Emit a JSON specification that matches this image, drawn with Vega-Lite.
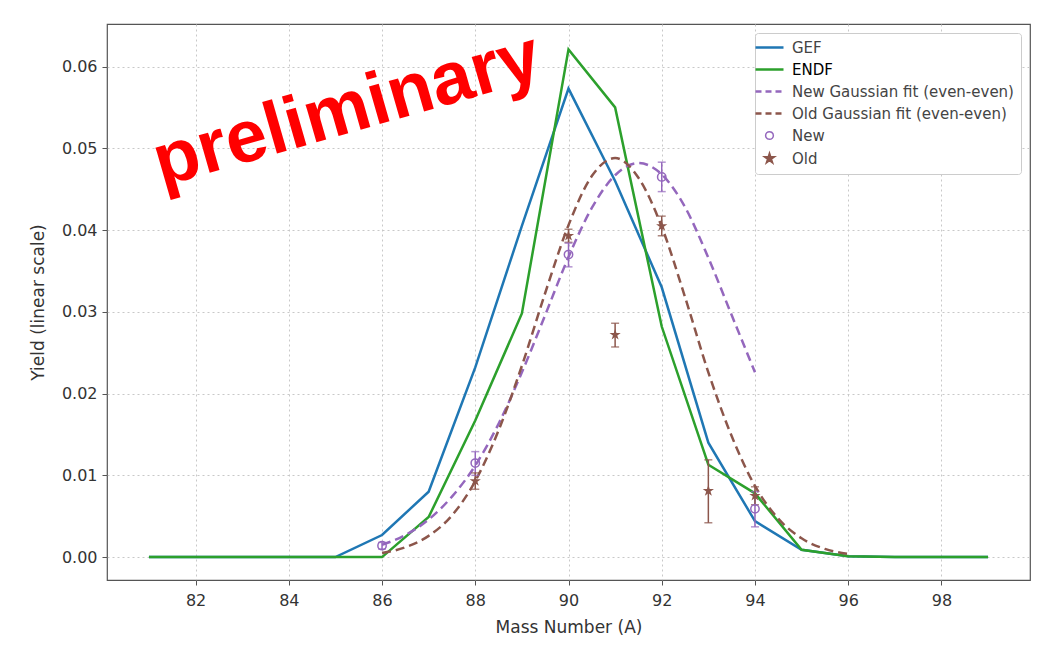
{
  "$schema": "https://vega.github.io/schema/vega-lite/v6.json",
  "width": 923,
  "height": 556,
  "autosize": {"type": "none"},
  "padding": {"left": 107, "top": 24, "right": 8, "bottom": 75},
  "background": "white",
  "config": {
    "font": "DejaVu Sans",
    "view": {"stroke": "#555555", "strokeWidth": 1.2},
    "axis": {
      "domain": false,
      "grid": true,
      "gridColor": "#c8c8c8",
      "gridDash": [2, 3],
      "gridWidth": 1,
      "tickColor": "#555555",
      "tickSize": 5,
      "labelColor": "#333333",
      "labelFontSize": 16,
      "titleColor": "#333333",
      "titleFontSize": 17,
      "titleFontWeight": "normal",
      "labelPadding": 5
    },
    "legend": {
      "orient": "top-right",
      "offset": 9,
      "fillColor": "white",
      "strokeColor": "#cccccc",
      "padding": 7,
      "cornerRadius": 3,
      "labelFontSize": 15,
      "labelColor": "#333333",
      "labelLimit": 400,
      "symbolSize": 784,
      "rowPadding": 6,
      "labelOffset": 15,
      "symbolStrokeWidth": 2.5
    }
  },
  "datasets": {
    "model": [
      {"A": 81, "y": 0, "series": "GEF"},
      {"A": 82, "y": 0, "series": "GEF"},
      {"A": 83, "y": 0, "series": "GEF"},
      {"A": 84, "y": 0, "series": "GEF"},
      {"A": 85, "y": 0, "series": "GEF"},
      {"A": 86, "y": 0.0027, "series": "GEF"},
      {"A": 87, "y": 0.0080, "series": "GEF"},
      {"A": 88, "y": 0.0232, "series": "GEF"},
      {"A": 89, "y": 0.0405, "series": "GEF"},
      {"A": 90, "y": 0.0573, "series": "GEF"},
      {"A": 91, "y": 0.0460, "series": "GEF"},
      {"A": 92, "y": 0.0330, "series": "GEF"},
      {"A": 93, "y": 0.0140, "series": "GEF"},
      {"A": 94, "y": 0.0044, "series": "GEF"},
      {"A": 95, "y": 0.0009, "series": "GEF"},
      {"A": 96, "y": 0.0001, "series": "GEF"},
      {"A": 97, "y": 0, "series": "GEF"},
      {"A": 98, "y": 0, "series": "GEF"},
      {"A": 99, "y": 0, "series": "GEF"},
      {"A": 81, "y": 0, "series": "ENDF"},
      {"A": 82, "y": 0, "series": "ENDF"},
      {"A": 83, "y": 0, "series": "ENDF"},
      {"A": 84, "y": 0, "series": "ENDF"},
      {"A": 85, "y": 0, "series": "ENDF"},
      {"A": 86, "y": 0, "series": "ENDF"},
      {"A": 87, "y": 0.0049, "series": "ENDF"},
      {"A": 88, "y": 0.0167, "series": "ENDF"},
      {"A": 89, "y": 0.0298, "series": "ENDF"},
      {"A": 90, "y": 0.0621, "series": "ENDF"},
      {"A": 91, "y": 0.0550, "series": "ENDF"},
      {"A": 92, "y": 0.0282, "series": "ENDF"},
      {"A": 93, "y": 0.0113, "series": "ENDF"},
      {"A": 94, "y": 0.0078, "series": "ENDF"},
      {"A": 95, "y": 0.0009, "series": "ENDF"},
      {"A": 96, "y": 0.0001, "series": "ENDF"},
      {"A": 97, "y": 0, "series": "ENDF"},
      {"A": 98, "y": 0, "series": "ENDF"},
      {"A": 99, "y": 0, "series": "ENDF"}
    ],
    "fits": [
      {"A": 86, "y": 0.0015, "series": "New Gaussian fit (even-even)"},
      {"A": 86.5, "y": 0.0027, "series": "New Gaussian fit (even-even)"},
      {"A": 87, "y": 0.0046, "series": "New Gaussian fit (even-even)"},
      {"A": 87.5, "y": 0.0074, "series": "New Gaussian fit (even-even)"},
      {"A": 88, "y": 0.0112, "series": "New Gaussian fit (even-even)"},
      {"A": 88.5, "y": 0.0163, "series": "New Gaussian fit (even-even)"},
      {"A": 89, "y": 0.0226, "series": "New Gaussian fit (even-even)"},
      {"A": 89.5, "y": 0.0296, "series": "New Gaussian fit (even-even)"},
      {"A": 90, "y": 0.0367, "series": "New Gaussian fit (even-even)"},
      {"A": 90.5, "y": 0.0427, "series": "New Gaussian fit (even-even)"},
      {"A": 91, "y": 0.0467, "series": "New Gaussian fit (even-even)"},
      {"A": 91.5, "y": 0.0482, "series": "New Gaussian fit (even-even)"},
      {"A": 92, "y": 0.0468, "series": "New Gaussian fit (even-even)"},
      {"A": 92.5, "y": 0.0428, "series": "New Gaussian fit (even-even)"},
      {"A": 93, "y": 0.0366, "series": "New Gaussian fit (even-even)"},
      {"A": 93.5, "y": 0.0296, "series": "New Gaussian fit (even-even)"},
      {"A": 94, "y": 0.0226, "series": "New Gaussian fit (even-even)"},
      {"A": 86, "y": 0.0005, "series": "Old Gaussian fit (even-even)"},
      {"A": 86.5, "y": 0.0012, "series": "Old Gaussian fit (even-even)"},
      {"A": 87, "y": 0.0026, "series": "Old Gaussian fit (even-even)"},
      {"A": 87.5, "y": 0.0051, "series": "Old Gaussian fit (even-even)"},
      {"A": 88, "y": 0.0093, "series": "Old Gaussian fit (even-even)"},
      {"A": 88.5, "y": 0.0155, "series": "Old Gaussian fit (even-even)"},
      {"A": 89, "y": 0.0234, "series": "Old Gaussian fit (even-even)"},
      {"A": 89.5, "y": 0.0323, "series": "Old Gaussian fit (even-even)"},
      {"A": 90, "y": 0.0406, "series": "Old Gaussian fit (even-even)"},
      {"A": 90.5, "y": 0.0466, "series": "Old Gaussian fit (even-even)"},
      {"A": 91, "y": 0.0488, "series": "Old Gaussian fit (even-even)"},
      {"A": 91.5, "y": 0.0464, "series": "Old Gaussian fit (even-even)"},
      {"A": 92, "y": 0.0404, "series": "Old Gaussian fit (even-even)"},
      {"A": 92.5, "y": 0.0318, "series": "Old Gaussian fit (even-even)"},
      {"A": 93, "y": 0.0226, "series": "Old Gaussian fit (even-even)"},
      {"A": 93.5, "y": 0.0148, "series": "Old Gaussian fit (even-even)"},
      {"A": 94, "y": 0.0087, "series": "Old Gaussian fit (even-even)"},
      {"A": 94.5, "y": 0.0047, "series": "Old Gaussian fit (even-even)"},
      {"A": 95, "y": 0.0023, "series": "Old Gaussian fit (even-even)"},
      {"A": 95.5, "y": 0.0010, "series": "Old Gaussian fit (even-even)"},
      {"A": 96, "y": 0.0004, "series": "Old Gaussian fit (even-even)"}
    ],
    "meas": [
      {"A": 86, "y": 0.0014, "lo": 0.0010, "hi": 0.0018, "series": "New"},
      {"A": 88, "y": 0.0115, "lo": 0.0100, "hi": 0.0129, "series": "New"},
      {"A": 90, "y": 0.0370, "lo": 0.0355, "hi": 0.0384, "series": "New"},
      {"A": 92, "y": 0.0465, "lo": 0.0447, "hi": 0.0483, "series": "New"},
      {"A": 94, "y": 0.0059, "lo": 0.0037, "hi": 0.0080, "series": "New"},
      {"A": 88, "y": 0.0093, "lo": 0.0083, "hi": 0.0103, "series": "Old"},
      {"A": 90, "y": 0.0393, "lo": 0.0385, "hi": 0.0401, "series": "Old"},
      {"A": 91, "y": 0.0272, "lo": 0.0257, "hi": 0.0286, "series": "Old"},
      {"A": 92, "y": 0.0405, "lo": 0.0393, "hi": 0.0417, "series": "Old"},
      {"A": 93, "y": 0.0081, "lo": 0.0042, "hi": 0.0119, "series": "Old"},
      {"A": 94, "y": 0.0075, "lo": 0.0064, "hi": 0.0086, "series": "Old"}
    ],
    "note": [
      {"label": "preliminary"}
    ]
  },
  "layer": [
    {
      "data": {"name": "model"},
      "mark": {"type": "line", "strokeWidth": 2.5},
      "encoding": {
        "x": {"field": "A", "type": "quantitative", "scale": {"domain": [80.1, 99.9], "nice": false, "zero": false}, "axis": {"values": [82, 84, 86, 88, 90, 92, 94, 96, 98], "title": "Mass Number (A)", "titlePadding": 11, "labelPadding": 7}},
        "y": {"field": "y", "type": "quantitative", "scale": {"domain": [-0.0028, 0.0652], "nice": false, "zero": false}, "axis": {"values": [0, 0.01, 0.02, 0.03, 0.04, 0.05, 0.06], "format": ".2f", "title": "Yield (linear scale)", "titlePadding": 14}},
        "color": {
          "field": "series",
          "type": "nominal",
          "scale": {
            "domain": ["GEF", "ENDF", "New Gaussian fit (even-even)", "Old Gaussian fit (even-even)", "New", "Old"],
            "range": ["#1f77b4", "#2ca02c", "#9467bd", "#8c564b", "#9467bd", "#8c564b"]
          },
          "legend": {
            "title": null,
            "encode": {
              "symbols": {
                "update": {
                  "shape": {"signal": "datum.value === 'New' ? 'circle' : datum.value === 'Old' ? 'M0,-1L0.2245,-0.309L0.951,-0.309L0.363,0.118L0.588,0.809L0,0.382L-0.588,0.809L-0.363,0.118L-0.951,-0.309L-0.2245,-0.309Z' : 'stroke'"},
                  "strokeDash": {"signal": "indexof(datum.value, 'Gaussian') >= 0 ? [6, 4] : [10, 0]"},
                  "fill": {"signal": "datum.value === 'Old' ? '#8c564b' : 'transparent'"},
                  "fillOpacity": {"signal": "datum.value === 'Old' ? 1 : 0"},
                  "stroke": {"scale": "color", "field": "value"},
                  "strokeWidth": {"signal": "datum.value === 'New' || datum.value === 'Old' ? 1.5 : 2.5"},
                  "size": {"signal": "datum.value === 'New' ? 60 : datum.value === 'Old' ? 120 : 784"},
                  "opacity": {"value": 1}
                }
              },
              "labels": {
                "update": {
                  "fill": {"signal": "datum.value === 'ENDF' ? '#000000' : '#444444'"}
                }
              }
            }
          }
        },
        "detail": {"field": "series"}
      }
    },
    {
      "data": {"name": "fits"},
      "mark": {"type": "line", "strokeWidth": 2.5, "strokeDash": [9, 5], "interpolate": "monotone"},
      "encoding": {
        "x": {"field": "A", "type": "quantitative"},
        "y": {"field": "y", "type": "quantitative", "title": "Yield (linear scale)"},
        "color": {"field": "series", "type": "nominal"},
        "detail": {"field": "series"}
      }
    },
    {
      "data": {"name": "meas"},
      "mark": {"type": "rule", "strokeWidth": 1.5},
      "encoding": {
        "x": {"field": "A", "type": "quantitative"},
        "y": {"field": "lo", "type": "quantitative", "title": "Yield (linear scale)"},
        "y2": {"field": "hi"},
        "color": {"field": "series", "type": "nominal"}
      }
    },
    {
      "data": {"name": "meas"},
      "mark": {"type": "tick", "orient": "horizontal", "size": 8, "thickness": 1.5},
      "encoding": {
        "x": {"field": "A", "type": "quantitative"},
        "y": {"field": "lo", "type": "quantitative", "title": "Yield (linear scale)"},
        "color": {"field": "series", "type": "nominal"}
      }
    },
    {
      "data": {"name": "meas"},
      "mark": {"type": "tick", "orient": "horizontal", "size": 8, "thickness": 1.5},
      "encoding": {
        "x": {"field": "A", "type": "quantitative"},
        "y": {"field": "hi", "type": "quantitative", "title": "Yield (linear scale)"},
        "color": {"field": "series", "type": "nominal"}
      }
    },
    {
      "data": {"name": "meas"},
      "transform": [{"filter": "datum.series === 'New'"}],
      "mark": {"type": "point", "filled": false, "shape": "circle", "size": 70, "strokeWidth": 1.5, "opacity": 1},
      "encoding": {
        "x": {"field": "A", "type": "quantitative"},
        "y": {"field": "y", "type": "quantitative", "title": "Yield (linear scale)"},
        "color": {"field": "series", "type": "nominal"}
      }
    },
    {
      "data": {"name": "meas"},
      "transform": [{"filter": "datum.series === 'Old'"}],
      "mark": {"type": "point", "filled": true, "shape": "M0,-1L0.2245,-0.309L0.951,-0.309L0.363,0.118L0.588,0.809L0,0.382L-0.588,0.809L-0.363,0.118L-0.951,-0.309L-0.2245,-0.309Z", "size": 140, "opacity": 1},
      "encoding": {
        "x": {"field": "A", "type": "quantitative"},
        "y": {"field": "y", "type": "quantitative", "title": "Yield (linear scale)"},
        "color": {"field": "series", "type": "nominal"}
      }
    },
    {
      "data": {"name": "note"},
      "mark": {"type": "text", "font": "Liberation Sans", "fontWeight": "bold", "fontSize": 74, "color": "#ff0000", "angle": 344, "align": "center", "baseline": "middle"},
      "encoding": {
        "text": {"field": "label"},
        "x": {"datum": 85.25, "type": "quantitative"},
        "y": {"datum": 0.0546, "type": "quantitative"}
      }
    }
  ]
}
